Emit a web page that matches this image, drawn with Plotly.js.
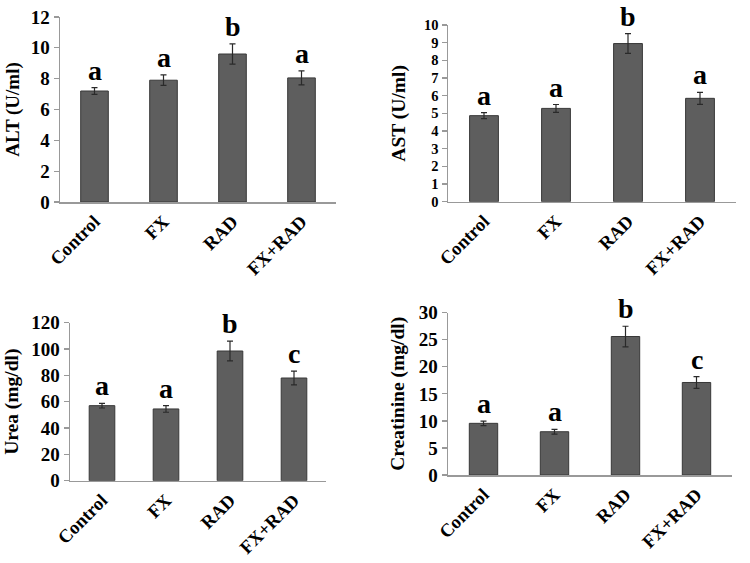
<!DOCTYPE html>
<html>
<head>
<meta charset="utf-8">
<script src="https://cdn.plot.ly/plotly-3.0.1.min.js"></script>
<style>html,body{margin:0;padding:0;background:#fff;}#chart{width:750px;height:563px;}</style>
</head>
<body>
<div id="chart"></div>
<script>
var groups = ["Control", "FX", "RAD", "FX+RAD"];

var altMean = [7.2, 7.9, 9.6, 8.05];
var altErr = [0.22, 0.34, 0.66, 0.45];
var altLetters = ["a", "a", "b", "a"];

var astMean = [4.87, 5.28, 8.95, 5.85];
var astErr = [0.17, 0.22, 0.56, 0.34];
var astLetters = ["a", "a", "b", "a"];

var ureaMean = [57, 54.5, 98.5, 78];
var ureaErr = [1.8, 2.5, 7.5, 5.2];
var ureaLetters = ["a", "a", "b", "c"];

var creaMean = [9.55, 8.0, 25.6, 17.1];
var creaErr = [0.42, 0.45, 1.9, 1.1];
var creaLetters = ["a", "a", "b", "c"];

var panels = [
  {mean: altMean, err: altErr, letters: altLetters, title: "ALT (U/ml)", range: [0, 12], dtick: 2, x: [60, 336], y: [17, 202], ts: 19, tf: 19, standoff: 6},
  {mean: astMean, err: astErr, letters: astLetters, title: "AST (U/ml)", range: [0, 10], dtick: 1, x: [448, 736], y: [25, 201.7], ts: 19.5, tf: 14.5, standoff: 13},
  {mean: ureaMean, err: ureaErr, letters: ureaLetters, title: "Urea (mg/dl)", range: [0, 120], dtick: 20, x: [70, 326], y: [322.7, 480.7], ts: 19.5, tf: 19, standoff: 7},
  {mean: creaMean, err: creaErr, letters: creaLetters, title: "Creatinine (mg/dl)", range: [0, 30], dtick: 5, x: [448, 732], y: [312.7, 475], ts: 19.5, tf: 19, standoff: 9}
];

var W = 750, H = 563;
var FONT = "Liberation Serif, Times New Roman, serif";
var traces = [];
var layout = {
  width: W, height: H,
  margin: {l: 0, r: 0, t: 0, b: 0},
  paper_bgcolor: "#ffffff",
  plot_bgcolor: "rgba(0,0,0,0)",
  showlegend: false,
  annotations: []
};

panels.forEach(function (p, i) {
  var n = i === 0 ? "" : String(i + 1);
  traces.push({
    type: "bar",
    x: groups,
    y: p.mean,
    xaxis: "x" + n,
    yaxis: "y" + n,
    width: 0.4,
    marker: {color: "#5e5e5e", line: {color: "#383838", width: 1}},
    error_y: {type: "data", array: p.err, visible: true, color: "#2a2a2a", thickness: 1.2, width: 3},
    hoverinfo: "x+y"
  });
  layout["xaxis" + n] = {
    domain: [p.x[0] / W, p.x[1] / W],
    anchor: "y" + n,
    type: "category",
    range: [-0.5, 3.5],
    showline: true, linecolor: "#999999", linewidth: 1.5,
    showgrid: false, zeroline: false,
    ticks: "",
    tickangle: -45,
    tickfont: {family: FONT, size: 18.5, color: "#000", weight: "bold"}
  };
  layout["yaxis" + n] = {
    domain: [1 - p.y[1] / H, 1 - p.y[0] / H],
    anchor: "x" + n,
    range: p.range,
    dtick: p.dtick,
    tick0: 0,
    showline: true, linecolor: "#999999", linewidth: 1.5,
    showgrid: false, zeroline: false,
    ticks: "outside", ticklen: 5, tickcolor: "#999999", tickwidth: 1.2,
    tickfont: {family: FONT, size: p.tf, color: "#000", weight: "bold"},
    title: {text: p.title, font: {family: FONT, size: p.ts, color: "#000", weight: "bold"}, standoff: p.standoff}
  };
  p.letters.forEach(function (L, k) {
    layout.annotations.push({
      xref: "x" + n, yref: "y" + n,
      x: groups[k], y: p.mean[k] + p.err[k],
      yanchor: "bottom", yshift: 0,
      text: L, showarrow: false,
      font: {family: FONT, size: 28, color: "#000", weight: "bold"}
    });
  });
});

Plotly.newPlot("chart", traces, layout, {displayModeBar: false, staticPlot: true});
</script>
</body>
</html>
